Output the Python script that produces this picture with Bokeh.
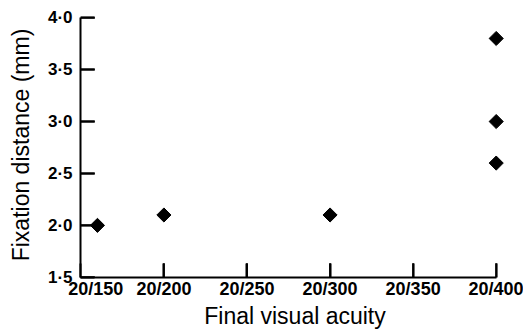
import numpy as np
from bokeh.plotting import figure
from bokeh.models import FixedTicker, Range1d
from bokeh.embed import file_html
from bokeh.resources import INLINE

# Data
acuity_x = [160, 200, 300, 400, 400, 400]   # 20/x denominators (first point sits right of the axis)
fixation_mm = [2.0, 2.1, 2.1, 3.8, 3.0, 2.6]

x_ticks = [150, 200, 250, 300, 350, 400]
x_tick_labels = ["20/150", "20/200", "20/250", "20/300", "20/350", "20/400"]
y_ticks = [1.5, 2.0, 2.5, 3.0, 3.5, 4.0]
y_tick_labels = ["1·5", "2·0", "2·5", "3·0", "3·5", "4·0"]

FONT = "Liberation Sans"

p = figure(width=523, height=333, output_backend="svg", toolbar_location=None,
           x_range=Range1d(149.8, 408), y_range=Range1d(1.498, 4.05),
           min_border_left=80, min_border_right=14, min_border_top=12, min_border_bottom=56)
p.outline_line_color = None
p.xgrid.visible = False
p.ygrid.visible = False
p.background_fill_color = "white"
p.border_fill_color = "white"

# inward tick marks
p.ray(x=x_ticks[1:], y=[y_ticks[0]] * (len(x_ticks) - 1), length=14, length_units="screen",
      angle=np.pi / 2, line_color="black", line_width=2)
p.ray(x=[x_ticks[0]] * len(y_ticks), y=y_ticks, length=14, length_units="screen",
      angle=0, line_color="black", line_width=2)

p.scatter(acuity_x, fixation_mm, marker="square", size=10, angle=np.pi / 4,
          fill_color="black", line_color="black")

# X axis
xa = p.xaxis[0]
xa.ticker = FixedTicker(ticks=x_ticks)
overrides = {t: l for t, l in zip(x_ticks, x_tick_labels)}
overrides[x_ticks[0]] = "\u00a0" * 6 + x_tick_labels[0]
xa.major_label_overrides = overrides
xa.bounds = (x_ticks[0], x_ticks[-1])
xa.minor_tick_line_color = None
xa.major_tick_in = 14
xa.major_tick_out = 0
xa.major_tick_line_width = 2
xa.major_tick_line_color = "black"
xa.axis_line_width = 2
xa.axis_line_color = "black"
xa.major_label_text_font = FONT
xa.major_label_text_font_style = "bold"
xa.major_label_text_font_size = "18px"
xa.major_label_text_line_height = 1.0
xa.major_label_text_color = "black"
xa.major_label_standoff = 1
xa.axis_label = "Final visual acuity"
xa.axis_label_text_font = FONT
xa.axis_label_text_font_style = "normal"
xa.axis_label_text_font_size = "23px"
xa.axis_label_text_line_height = 1.0
xa.axis_label_text_color = "black"
xa.axis_label_standoff = 1

# Y axis
ya = p.yaxis[0]
ya.ticker = FixedTicker(ticks=y_ticks)
ya.major_label_overrides = {t: l for t, l in zip(y_ticks, y_tick_labels)}
ya.bounds = (y_ticks[0], y_ticks[-1])
ya.minor_tick_line_color = None
ya.major_tick_in = 14
ya.major_tick_out = 0
ya.major_tick_line_width = 2
ya.major_tick_line_color = "black"
ya.axis_line_width = 2
ya.axis_line_color = "black"
ya.major_label_text_font = FONT
ya.major_label_text_font_style = "bold"
ya.major_label_text_font_size = "17px"
ya.major_label_text_color = "black"
ya.major_label_standoff = 8
ya.axis_label = "Fixation distance (mm)"
ya.axis_label_text_font = FONT
ya.axis_label_text_font_style = "normal"
ya.axis_label_text_font_size = "23px"
ya.axis_label_text_color = "black"
ya.axis_label_standoff = 11

open("out.html", "w").write(file_html(p, INLINE))
